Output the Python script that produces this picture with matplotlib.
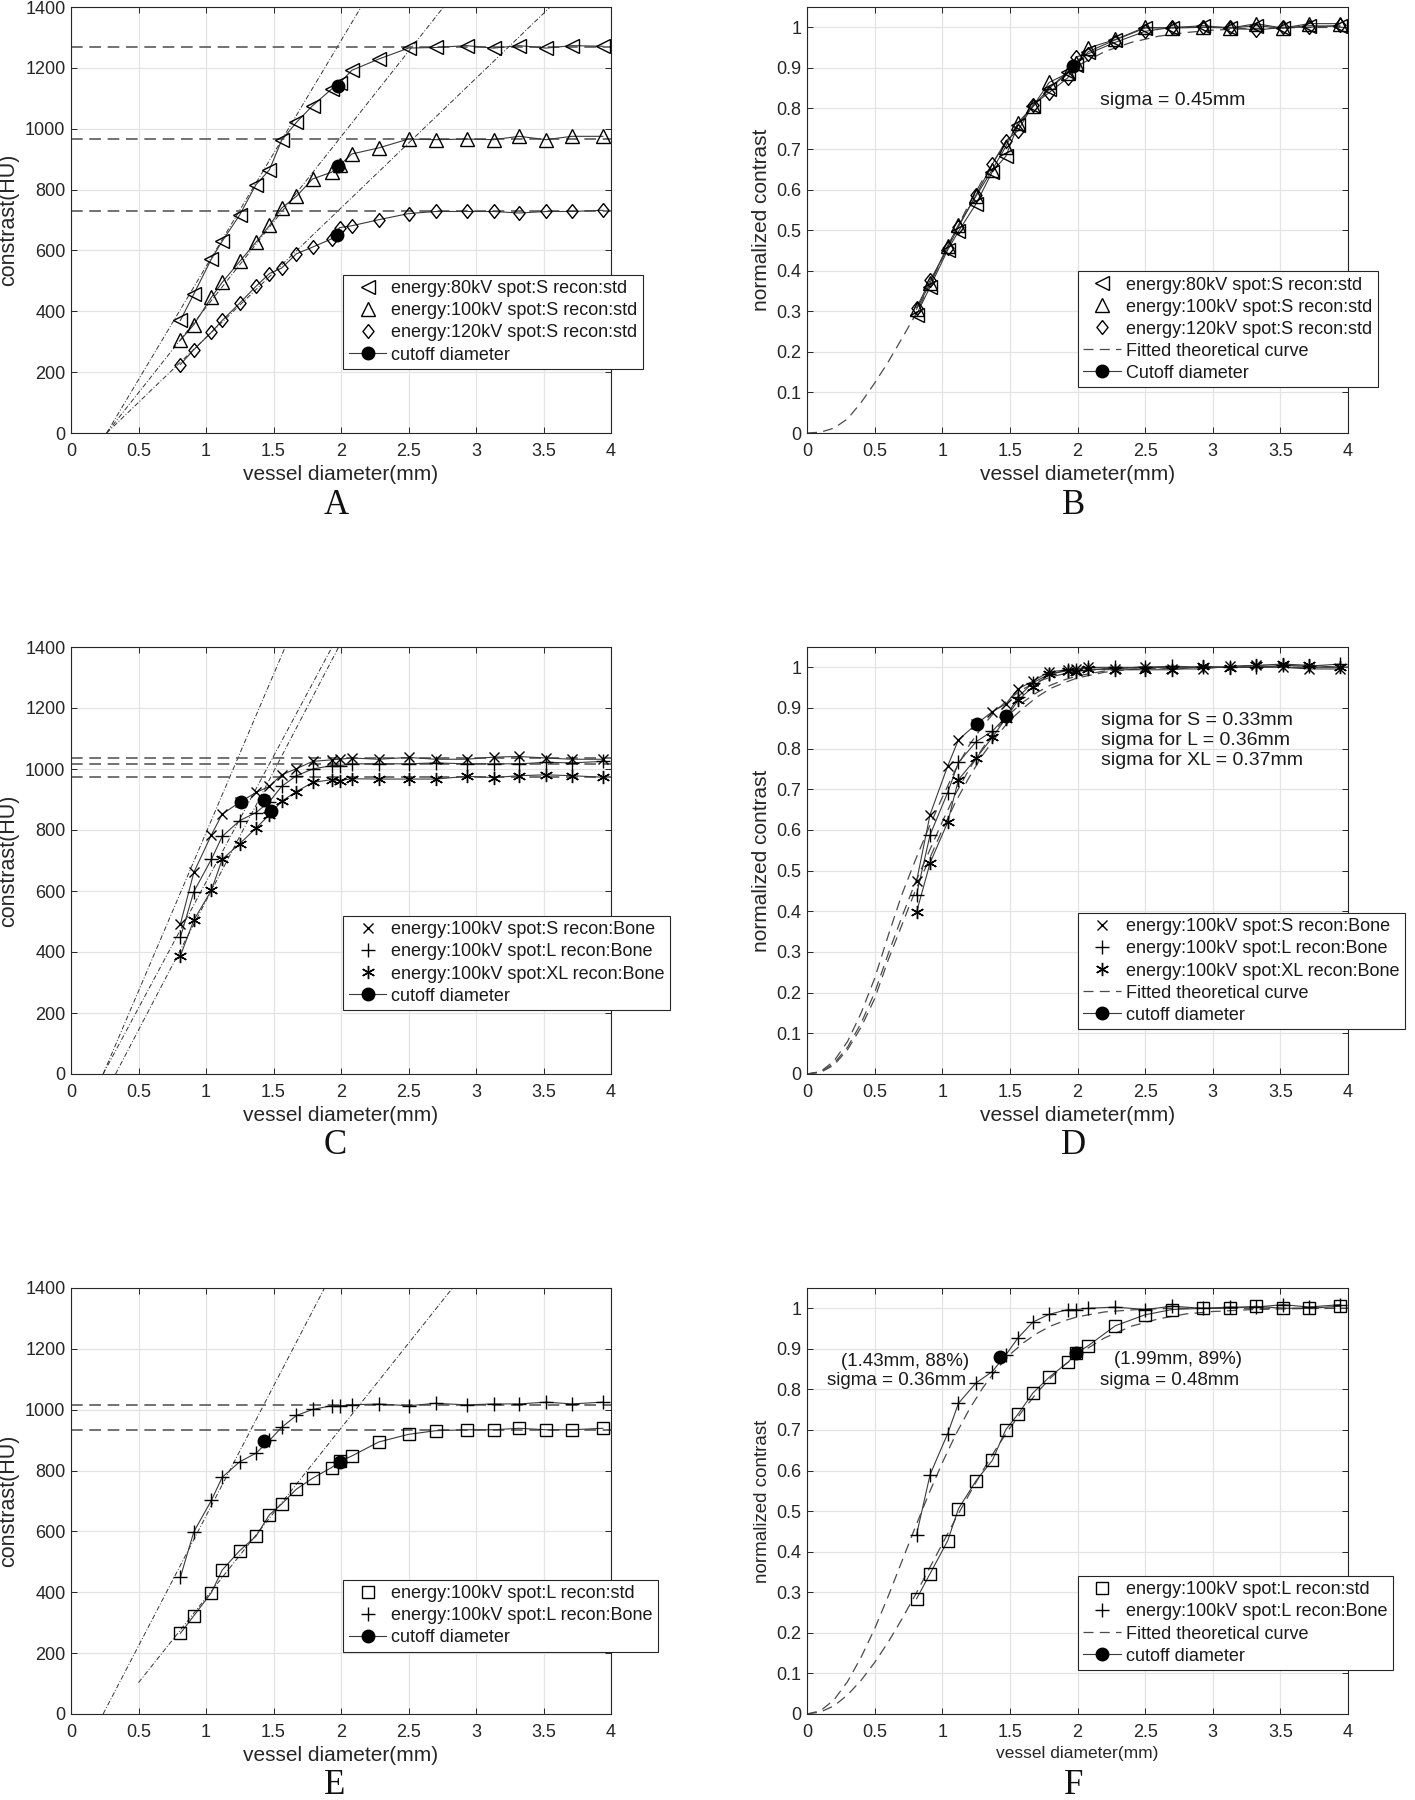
import matplotlib
matplotlib.use("Agg")
import matplotlib.pyplot as plt
from matplotlib.lines import Line2D
from matplotlib.ticker import FuncFormatter

plt.rcParams['font.family'] = ['Liberation Sans', 'DejaVu Sans']

# ---------------- data ----------------
diam = [0.81, 0.91, 1.04, 1.12, 1.25, 1.37, 1.47, 1.56, 1.67, 1.79, 1.93, 1.99,
        2.08, 2.28, 2.50, 2.70, 2.93, 3.13, 3.32, 3.52, 3.71, 3.94]

# Panel A (HU)
a_80 = [370, 457, 572, 630, 717, 816, 865, 962, 1021, 1076, 1130, 1150, 1192, 1229,
        1265, 1267, 1273, 1265, 1273, 1265, 1273, 1271]
a_100 = [305, 356, 446, 495, 564, 627, 682, 739, 778, 835, 857, 880, 917, 937,
         966, 964, 966, 964, 975, 964, 975, 975]
a_120 = [225, 274, 331, 370, 427, 482, 524, 542, 589, 611, 638, 675, 681, 701,
         721, 728, 728, 728, 723, 728, 728, 732]
a_plateau = [1268, 966, 730]
a_cut_x = [1.98, 1.98, 1.97]
a_cut_y = [1140, 876, 652]
a_tan_x0 = [0.264, 0.264, 0.264]
a_tan_y0 = [0, 0, 0]
a_tan_x1 = [2.149, 2.76, 3.55]
a_tan_y1 = [1400, 1400, 1400]
a_labels = ['energy:80kV spot:S recon:std', 'energy:100kV spot:S recon:std',
            'energy:120kV spot:S recon:std', 'cutoff diameter']

# Panel B (normalized)
b_80 = [0.292, 0.360, 0.451, 0.497, 0.565, 0.644, 0.682, 0.759, 0.805, 0.849, 0.891, 0.907,
        0.940, 0.969, 0.998, 0.999, 1.004, 0.998, 1.004, 0.998, 1.004, 1.002]
b_100 = [0.305, 0.369, 0.462, 0.512, 0.584, 0.649, 0.706, 0.765, 0.805, 0.864, 0.887, 0.911,
         0.949, 0.970, 1.000, 0.998, 1.000, 0.998, 1.009, 0.998, 1.009, 1.009]
b_120 = [0.309, 0.376, 0.455, 0.508, 0.587, 0.662, 0.720, 0.745, 0.809, 0.839, 0.876, 0.927,
         0.935, 0.963, 0.990, 1.000, 1.000, 1.000, 0.993, 1.000, 1.000, 1.005]
fit_x = [0.0, 0.1, 0.2, 0.3, 0.4, 0.5, 0.6, 0.7, 0.8, 0.9, 1.0, 1.1, 1.2, 1.3, 1.4, 1.5,
         1.6, 1.7, 1.8, 1.9, 2.0, 2.2, 2.4, 2.6, 2.8, 3.0, 3.3, 3.6, 4.0]
b_fit = [0.0, 0.002, 0.012, 0.035, 0.075, 0.123, 0.175, 0.232, 0.29, 0.36, 0.43, 0.5, 0.565,
         0.625, 0.68, 0.73, 0.776, 0.816, 0.85, 0.88, 0.905, 0.94, 0.963, 0.978, 0.987,
         0.993, 0.997, 0.999, 1.0]
b_cut_x = [1.97]
b_cut_y = [0.905]
b_labels = ['energy:80kV spot:S recon:std', 'energy:100kV spot:S recon:std',
            'energy:120kV spot:S recon:std', 'Fitted theoretical curve', 'Cutoff diameter']
b_note = 'sigma = 0.45mm'

# Panel C (HU)
c_s = [491, 661, 784, 852, 891, 923, 943, 981, 1001, 1025, 1030, 1032, 1036, 1032,
       1038, 1032, 1032, 1039, 1041, 1036, 1032, 1032]
c_l = [448, 598, 704, 779, 831, 857, 893, 943, 978, 1000, 1011, 1011, 1017, 1017,
       1017, 1020, 1017, 1017, 1017, 1022, 1020, 1025]
c_xl = [387, 505, 602, 704, 755, 806, 850, 894, 926, 956, 965, 962, 968, 967,
        967, 967, 976, 972, 978, 981, 978, 973]
c_plateau = [1036, 1017, 973]
c_cut_x = [1.26, 1.43, 1.48]
c_cut_y = [891, 899, 862]
c_tan_x0 = [0.238, 0.238, 0.33]
c_tan_y0 = [0, 0, 0]
c_tan_x1 = [1.587, 1.934, 1.983]
c_tan_y1 = [1400, 1400, 1400]
c_labels = ['energy:100kV spot:S recon:Bone', 'energy:100kV spot:L recon:Bone',
            'energy:100kV spot:XL recon:Bone', 'cutoff diameter']

# Panel D (normalized)
d_s = [0.474, 0.638, 0.757, 0.822, 0.860, 0.891, 0.910, 0.947, 0.966, 0.989, 0.994, 0.996,
       1.000, 0.996, 1.002, 0.996, 0.996, 1.003, 1.005, 1.000, 0.996, 0.996]
d_l = [0.441, 0.588, 0.692, 0.766, 0.817, 0.843, 0.878, 0.927, 0.962, 0.983, 0.994, 0.994,
       1.000, 1.000, 1.000, 1.003, 1.000, 1.000, 1.000, 1.005, 1.003, 1.008]
d_xl = [0.398, 0.519, 0.619, 0.724, 0.776, 0.828, 0.874, 0.919, 0.952, 0.983, 0.992, 0.989,
        0.995, 0.994, 0.994, 0.994, 1.003, 0.999, 1.005, 1.008, 1.005, 1.000]
d_fit_s = [0.0, 0.006, 0.032, 0.08, 0.15, 0.235, 0.34, 0.44, 0.525, 0.605, 0.68, 0.75, 0.809,
           0.856, 0.895, 0.924, 0.947, 0.964, 0.976, 0.984, 0.99, 0.996, 0.999, 1.0, 1.0,
           1.0, 1.0, 1.0, 1.0]
d_fit_l = [0.0, 0.005, 0.026, 0.066, 0.125, 0.2, 0.295, 0.385, 0.47, 0.545, 0.62, 0.69, 0.75,
           0.802, 0.849, 0.886, 0.915, 0.938, 0.956, 0.969, 0.979, 0.991, 0.996, 0.999, 1.0,
           1.0, 1.0, 1.0, 1.0]
d_fit_xl = [0.0, 0.004, 0.022, 0.06, 0.115, 0.185, 0.28, 0.365, 0.45, 0.525, 0.6, 0.67, 0.73,
            0.785, 0.83, 0.87, 0.9, 0.927, 0.948, 0.962, 0.974, 0.988, 0.995, 0.998, 1.0,
            1.0, 1.0, 1.0, 1.0]
d_cut_x = [1.26, 1.47]
d_cut_y = [0.860, 0.881]
d_labels = ['energy:100kV spot:S recon:Bone', 'energy:100kV spot:L recon:Bone',
            'energy:100kV spot:XL recon:Bone', 'Fitted theoretical curve', 'cutoff diameter']
d_notes = ['sigma for S = 0.33mm', 'sigma for L = 0.36mm', 'sigma for XL = 0.37mm']

# Panel E (HU)
e_std = [265, 323, 399, 473, 537, 584, 655, 690, 739, 775, 810, 830, 848, 894,
         919, 931, 934, 934, 939, 934, 934, 939]
e_bone = [449, 599, 702, 778, 829, 857, 899, 942, 981, 1001, 1013, 1013, 1016, 1019,
          1013, 1021, 1016, 1019, 1019, 1025, 1019, 1025]
e_plateau = [934, 1016]
e_cut_x = [1.99, 1.43]
e_cut_y = [829, 897]
e_tan_x0 = [0.5, 0.238]
e_tan_y0 = [103, 0]
e_tan_x1 = [2.826, 1.878]
e_tan_y1 = [1400, 1400]
e_labels = ['energy:100kV spot:L recon:std', 'energy:100kV spot:L recon:Bone', 'cutoff diameter']

# Panel F (normalized)
f_std = [0.284, 0.346, 0.427, 0.506, 0.575, 0.625, 0.701, 0.739, 0.791, 0.830, 0.867, 0.889,
         0.908, 0.957, 0.984, 0.997, 1.000, 1.000, 1.005, 1.000, 1.000, 1.005]
f_bone = [0.442, 0.590, 0.691, 0.766, 0.816, 0.844, 0.885, 0.927, 0.966, 0.985, 0.997, 0.997,
          1.000, 1.003, 0.997, 1.005, 1.000, 1.003, 1.003, 1.009, 1.003, 1.009]
f_fit_std = [0.0, 0.005, 0.02, 0.047, 0.083, 0.127, 0.177, 0.233, 0.293, 0.356, 0.419, 0.482,
             0.542, 0.6, 0.655, 0.705, 0.75, 0.792, 0.828, 0.859, 0.886, 0.927, 0.956, 0.974,
             0.986, 0.992, 0.997, 0.999, 1.0]
f_fit_bone = [0.0, 0.008, 0.035, 0.08, 0.14, 0.21, 0.29, 0.375, 0.46, 0.542, 0.619, 0.689,
              0.751, 0.804, 0.849, 0.886, 0.915, 0.938, 0.956, 0.969, 0.979, 0.991, 0.996,
              0.999, 1.0, 1.0, 1.0, 1.0, 1.0]
f_cut_x = [1.99, 1.43]
f_cut_y = [0.89, 0.88]
f_labels = ['energy:100kV spot:L recon:std', 'energy:100kV spot:L recon:Bone',
            'Fitted theoretical curve', 'cutoff diameter']
f_notes = ['(1.43mm, 88%)', 'sigma = 0.36mm', '(1.99mm, 89%)', 'sigma = 0.48mm']

x_ticks = [0, 0.5, 1, 1.5, 2, 2.5, 3, 3.5, 4]
hu_ticks = [0, 200, 400, 600, 800, 1000, 1200, 1400]
norm_ticks = [0, 0.1, 0.2, 0.3, 0.4, 0.5, 0.6, 0.7, 0.8, 0.9, 1.0]

# ---------------- styles ----------------
DARK = '#262626'
LINE = '#3a3a3a'
diamond = [(0, 1), (0.8, 0), (0, -1), (-0.8, 0), (0, 1)]
MK = {
    'left': dict(marker='<', ms=9.5),
    'up': dict(marker='^', ms=9.5),
    'dia': dict(marker=diamond, ms=10),
    'x': dict(marker='x', ms=7.5),
    'plus': dict(marker='+', ms=10),
    'star': dict(marker=(6, 2, 0), ms=9.5),
    'sq': dict(marker='s', ms=8),
}

fig = plt.figure(figsize=(14.15, 18), dpi=100)


def px_axes(l, t, r, b):
    return fig.add_axes([l / 1415, 1 - b / 1800, (r - l) / 1415, (b - t) / 1800])


fmt = FuncFormatter(lambda v, p: '%g' % round(v, 3))


def style(ax, norm, xls=15, yls=15):
    ax.set_xlim(0, 4)
    ax.set_xticks(x_ticks)
    if norm:
        ax.set_ylim(0, 1.05)
        ax.set_yticks(norm_ticks)
        ax.set_ylabel('normalized contrast', fontsize=yls, color=DARK)
    else:
        ax.set_ylim(0, 1400)
        ax.set_yticks(hu_ticks)
        ax.set_ylabel('constrast(HU)', fontsize=yls + 0.5, color=DARK)
    ax.xaxis.set_major_formatter(fmt)
    ax.yaxis.set_major_formatter(fmt)
    ax.set_xlabel('vessel diameter(mm)', fontsize=xls, color=DARK, labelpad=4)
    ax.grid(True, color='#e4e4e4', lw=0.9)
    ax.set_axisbelow(True)
    ax.tick_params(direction='in', length=4, width=0.7, top=True, right=True,
                   labelsize=13, colors=DARK)
    ax.tick_params(axis='x', pad=7)
    ax.tick_params(axis='y', pad=4)
    for s in ax.spines.values():
        s.set_color(DARK)
        s.set_linewidth(0.8)


def series(ax, y, key):
    ax.plot(diam, y, color=LINE, lw=0.8, zorder=3)
    ax.plot(diam, y, ls='none', mfc='none', mec='k', mew=1.0, zorder=4, **MK[key])


def tangents(ax, x0, y0, x1, y1):
    for i in range(len(x0)):
        ax.plot([x0[i], x1[i]], [y0[i], y1[i]], color='#333333', lw=0.7,
                ls=(0, (5, 2, 1, 2)), zorder=2)


def plateaus(ax, vals):
    for v in vals:
        ax.axhline(v, color='#5a5a5a', lw=1.2, ls=(0, (7, 4)), zorder=2)


def fits(ax, ys):
    for y in ys:
        ax.plot(fit_x, y, color='#4a4a4a', lw=0.9, ls=(0, (8, 5)), zorder=2)


def cutoffs(ax, xs, ys):
    ax.plot(xs, ys, ls='none', marker='o', ms=9, mfc='k', mec='k', zorder=6)


def legend(ax, keys, labels, anchor, fit=False):
    h = [Line2D([], [], ls='none', mfc='none', mec='k', mew=1.0, **MK[k]) for k in keys]
    if fit:
        h.append(Line2D([], [], color='#4a4a4a', lw=0.9, ls=(0, (8, 5))))
    h.append(Line2D([], [], color=LINE, lw=0.8, marker='o', ms=9, mfc='k', mec='k'))
    leg = ax.legend(h, labels, loc='upper left', bbox_to_anchor=anchor, borderaxespad=0,
                    fontsize=13, frameon=True, fancybox=False, edgecolor=DARK,
                    framealpha=1, handlelength=2.1, handletextpad=0.25, borderpad=0.3,
                    labelspacing=0.28)
    leg.get_frame().set_linewidth(0.8)
    for t in leg.get_texts():
        t.set_color('#1a1a1a')
    return leg


# ---------------- panel A ----------------
axA = px_axes(71, 7, 611, 433)
style(axA, False)
tangents(axA, a_tan_x0, a_tan_y0, a_tan_x1, a_tan_y1)
plateaus(axA, a_plateau)
series(axA, a_80, 'left')
series(axA, a_100, 'up')
series(axA, a_120, 'dia')
cutoffs(axA, a_cut_x, a_cut_y)
legend(axA, ['left', 'up', 'dia'], a_labels, (0.504, 0.371))

# ---------------- panel B ----------------
axB = px_axes(807, 7, 1348, 433)
style(axB, True)
fits(axB, [b_fit])
series(axB, b_80, 'left')
series(axB, b_100, 'up')
series(axB, b_120, 'dia')
cutoffs(axB, b_cut_x, b_cut_y)
axB.text(2.167, 0.82, b_note, fontsize=14, ha='left', va='center', color='#1a1a1a')
legend(axB, ['left', 'up', 'dia'], b_labels, (0.501, 0.380), fit=True)

# ---------------- panel C ----------------
axC = px_axes(71, 647, 611, 1074)
style(axC, False)
tangents(axC, c_tan_x0, c_tan_y0, c_tan_x1, c_tan_y1)
plateaus(axC, c_plateau)
series(axC, c_s, 'x')
series(axC, c_l, 'plus')
series(axC, c_xl, 'star')
cutoffs(axC, c_cut_x, c_cut_y)
legend(axC, ['x', 'plus', 'star'], c_labels, (0.504, 0.370))

# ---------------- panel D ----------------
axD = px_axes(807, 647, 1348, 1074)
style(axD, True)
fits(axD, [d_fit_s, d_fit_l, d_fit_xl])
series(axD, d_s, 'x')
series(axD, d_l, 'plus')
series(axD, d_xl, 'star')
cutoffs(axD, d_cut_x, d_cut_y)
for t, yv in zip(d_notes, [0.870, 0.821, 0.772]):
    axD.text(2.174, yv, t, fontsize=14, ha='left', va='center', color='#1a1a1a')
legend(axD, ['x', 'plus', 'star'], d_labels, (0.501, 0.377), fit=True)

# ---------------- panel E ----------------
axE = px_axes(71, 1288, 611, 1714)
style(axE, False)
tangents(axE, e_tan_x0, e_tan_y0, e_tan_x1, e_tan_y1)
plateaus(axE, e_plateau)
series(axE, e_std, 'sq')
series(axE, e_bone, 'plus')
cutoffs(axE, e_cut_x, e_cut_y)
legend(axE, ['sq', 'plus'], e_labels, (0.504, 0.315))

# ---------------- panel F ----------------
axF = px_axes(807, 1288, 1348, 1714)
style(axF, True, xls=12.5, yls=13.5)
fits(axF, [f_fit_std, f_fit_bone])
series(axF, f_std, 'sq')
series(axF, f_bone, 'plus')
cutoffs(axF, f_cut_x, f_cut_y)
for t, xv, yv in zip(f_notes, [0.725, 0.66, 2.74, 2.68], [0.87, 0.821, 0.873, 0.823]):
    axF.text(xv, yv, t, fontsize=13.5, ha='center', va='center', color='#1a1a1a')
legend(axF, ['sq', 'plus'], f_labels, (0.501, 0.324), fit=True)

# ---------------- panel letters ----------------
for letter, (x, y) in zip('ABCDEF', [(336, 505), (1074, 505), (335, 1145), (1074, 1145),
                                     (335, 1785), (1074, 1785)]):
    fig.text(x / 1415, 1 - y / 1800, letter, family='Liberation Serif', fontsize=25,
             ha='center', va='center', color='#111111')

fig.savefig('out.png', dpi=100, facecolor='white')
